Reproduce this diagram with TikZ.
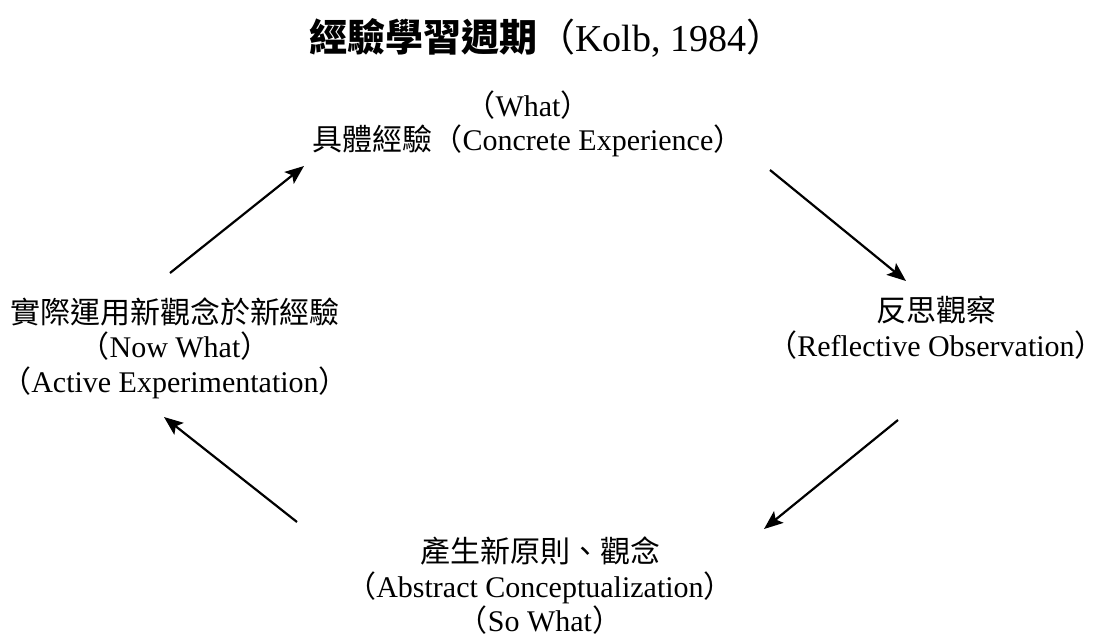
\documentclass[tikz,border=0pt]{standalone}
\usepackage{fontspec}
\usetikzlibrary{arrows.meta}
\setmainfont{Liberation Serif}
\newfontfamily\cjk{Noto Sans CJK TC}
\tikzset{
  lbl/.style={align=center, inner sep=0pt, font=\fontsize{30}{34.5}\selectfont},
  ttl/.style={inner sep=0pt, font=\fontsize{38}{42}\selectfont},
  flow/.style={line width=2.2pt, -{Stealth[length=19pt,width=15pt,inset=4pt]}}
}
\begin{document}
\begin{tikzpicture}[x=1pt,y=-1pt]
\useasboundingbox[fill=white] (0,0) rectangle (1103,638);
\node[ttl] (title) at (547,38) {{\cjk\bfseries 經驗學習週期}{\cjk （}Kolb, 1984{\cjk ）}};
\node[lbl] (ce) at (528,124) {{\cjk （}What{\cjk ）}\\{\cjk 具體經驗（}Concrete Experience{\cjk ）}};
\node[lbl] (ro) at (936,328) {{\cjk 反思觀察}\\{\cjk （}Reflective Observation{\cjk ）}};
\node[lbl] (ac) at (540,586) {{\cjk 產生新原則、觀念}\\{\cjk （}Abstract Conceptualization{\cjk ）}\\{\cjk （}So What{\cjk ）}};
\node[lbl] (ae) at (175,348) {{\cjk 實際運用新觀念於新經驗}\\{\cjk （}Now What{\cjk ）}\\{\cjk （}Active Experimentation{\cjk ）}};
\coordinate (a1s) at (170,273); \coordinate (a1e) at (304,166);
\coordinate (a2s) at (770,170); \coordinate (a2e) at (906,281);
\coordinate (a3s) at (898,420); \coordinate (a3e) at (764,529);
\coordinate (a4s) at (297,522); \coordinate (a4e) at (164,417);
\draw[flow] (a1s) -- (a1e);
\draw[flow] (a2s) -- (a2e);
\draw[flow] (a3s) -- (a3e);
\draw[flow] (a4s) -- (a4e);
\end{tikzpicture}
\end{document}
